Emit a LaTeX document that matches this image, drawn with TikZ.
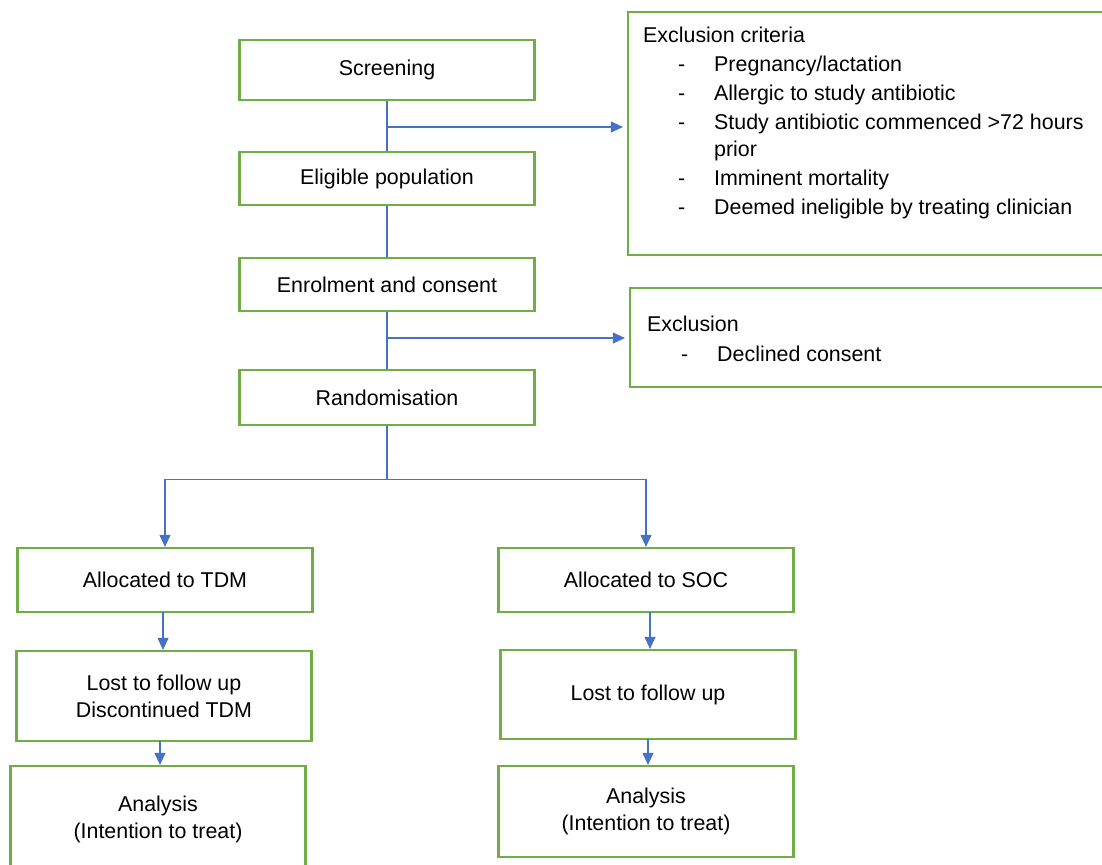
\documentclass[tikz,border=0pt]{standalone}
\usepackage{fontspec}
\setmainfont{Liberation Sans}
\usetikzlibrary{positioning}
\usetikzlibrary{arrows.meta}
\usetikzlibrary{calc}
\definecolor{boxgreen}{HTML}{70AD47}
\definecolor{linkblue}{HTML}{4472C4}
\tikzset{box/.style={draw=boxgreen, line width=2.2pt, minimum width=295pt, inner sep=0pt, align=center}}
\tikzset{link/.style={draw=linkblue, line width=1.1pt}}
\tikzset{>={Triangle[length=12pt,width=11pt]}}
\newcommand{\critem}[1]{\makebox[71pt][r]{-\hspace{29pt}}#1}

\begin{document}
\begin{tikzpicture}[x=1pt, y=-1pt, font=\fontsize{21.4}{27}\selectfont]
\useasboundingbox (0,0) rectangle (1102,864);

\node[box, minimum height=60pt] (scr) at (387, 70) {Screening};
\node[box, minimum height=53pt] (elig) at (387, 178.5) {Eligible population};
\node[box, minimum height=53pt] (enrol) at (387, 284.5) {Enrolment and consent};
\node[box, minimum height=55pt] (rand) at (387, 397.5) {Randomisation};

\node[box, minimum width=482pt, minimum height=243pt] (crit) at (869, 133.5) {};
\node[anchor=north west, inner sep=0pt, align=left] (crittxt) at (643, 27) {Exclusion criteria\\[2pt]
\critem{Pregnancy/lactation}\\[2pt]
\critem{Allergic to study antibiotic}\\[2pt]
\critem{Study antibiotic commenced >72 hours}\\
\hspace*{71pt}prior\\[2pt]
\critem{Imminent mortality}\\[2pt]
\critem{Deemed ineligible by treating clinician}};

\node[box, minimum width=480pt, minimum height=99pt] (excl) at (870, 337.5) {};
\node[anchor=north west, inner sep=0pt, align=left] (excltxt) at (647, 316) {Exclusion\\[3pt]
\makebox[70pt][r]{-\hspace{29pt}}Declined consent};

\node[box, minimum height=64pt] (tdm) at (165, 580) {Allocated to TDM};
\node[box, minimum height=90pt] (lost1) at (164, 696) {Lost to follow up\\Discontinued TDM};
\node[box, minimum height=106pt] (ana1) at (158, 819) {Analysis\\(Intention to treat)};

\node[box, minimum height=64pt] (soc) at (646, 580) {Allocated to SOC};
\node[box, minimum height=89pt] (lost2) at (648, 694.5) {Lost to follow up};
\node[box, minimum height=91pt] (ana2) at (646, 811.5) {Analysis\\(Intention to treat)};

\draw[link] (scr.south) -- (elig.north);
\draw[link] (elig.south) -- (enrol.north);
\draw[link] (enrol.south) -- (rand.north);

\coordinate (b1) at (387, 127);
\draw[link, ->] (b1) -- ($(b1 -| crit.west) + (-4, 0)$);
\coordinate (b2) at (387, 338);
\draw[link, ->] (b2) -- ($(b2 -| excl.west) + (-4, 0)$);

\draw[link] (rand.south) -- ++(0, 53) coordinate (split);
\draw[link, ->] (split) -| (tdm.north);
\draw[link, ->] (split) -| (soc.north);

\coordinate (t1) at (163, 612);
\coordinate (t2) at (160, 741);
\coordinate (s1) at (650, 612);
\coordinate (s2) at (648, 739);
\draw[link, ->] (t1) -- (t1 |- lost1.north);
\draw[link, ->] (t2) -- (t2 |- ana1.north);
\draw[link, ->] (s1) -- (s1 |- lost2.north);
\draw[link, ->] (s2) -- (s2 |- ana2.north);

\end{tikzpicture}
\end{document}
